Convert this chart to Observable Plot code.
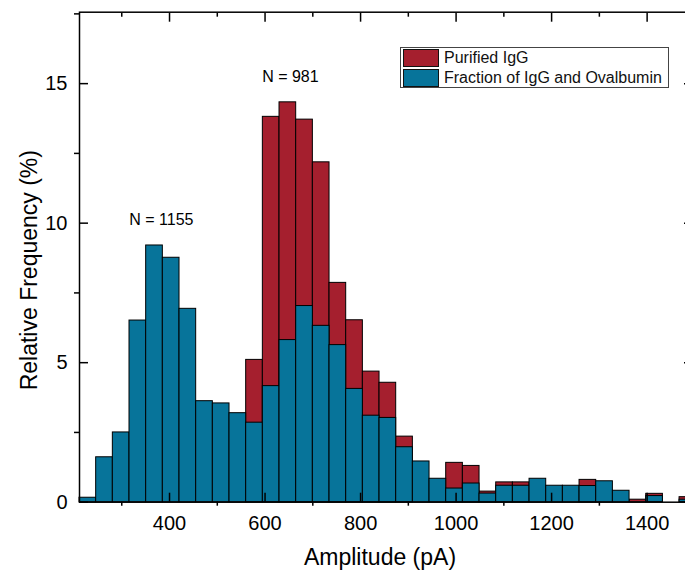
<!DOCTYPE html>
<html>
<head>
<meta charset="utf-8">
<script src="https://cdn.jsdelivr.net/npm/d3@7"></script>
<script src="https://cdn.jsdelivr.net/npm/@observablehq/plot@0.6"></script>
<style>
  html, body { margin: 0; padding: 0; background: #fff; overflow: hidden; }
  #wrap { position: relative; width: 685px; height: 579px; font-family: "Liberation Sans", Arial, sans-serif; }
  #legend { position: absolute; left: 400px; top: 47px; width: 269px; height: 41px; border: 1px solid #444; background: #fff; box-sizing: border-box; }
  .row { position: absolute; left: 2px; height: 18px; display: flex; align-items: center; font-size: 16px; color: #111; white-space: nowrap; }
  .sw { width: 36px; height: 18px; box-sizing: border-box; border: 1px solid #111; margin-right: 5px; }
</style>
</head>
<body>
<div id="wrap"></div>
<script>
// Histogram bins (Amplitude, pA)
const binStart = 211.5;
const binWidth = 34.9;
// Relative frequency (%) per bin, "Fraction of IgG and Ovalbumin" (N = 1155)
const fraction = [0.16, 1.61, 2.50, 6.51, 9.20, 8.76, 6.93, 3.62, 3.54, 3.19,
                  2.85, 4.16, 5.81, 7.03, 6.32, 5.63, 4.06, 3.10, 3.02, 1.97,
                  1.46, 0.84, 0.49, 0.67, 0.31, 0.59, 0.59, 0.84, 0.59, 0.59,
                  0.58, 0.75, 0.41, 0.00, 0.22, 0.00, 0.09];
// Relative frequency (%) per bin, "Purified IgG" (N = 981); null = hidden behind the other series
const purified = [null, null, null, null, null, null, null, null, null, null,
                  5.10, 13.81, 14.33, 13.71, 12.18, 7.86, 6.52, 4.68, 4.28, 2.35,
                  null, null, 1.41, 1.30, 0.38, 0.71, 0.71, null, null, null,
                  0.80, null, null, 0.09, 0.30, 0.00, 0.18];
const seriesNames = ["Purified IgG", "Fraction of IgG and Ovalbumin"];
const seriesColors = ["#a51f2e", "#07749a"];
const majorX = [400, 600, 800, 1000, 1200, 1400];
const minorX = [300, 500, 700, 900, 1100, 1300, 1500];
const majorY = [0, 5, 10, 15];
const minorY = [2.5, 7.5, 12.5, 17.5];
const annotations = [
  {x: 383, y: 10.13, text: "N = 1155"},
  {x: 653, y: 15.26, text: "N = 981"}
];

const toBins = (vals) => vals.map((v, i) => ({x1: binStart + i * binWidth, x2: binStart + (i + 1) * binWidth, y: v}))
  .filter(d => d.y != null && d.y > 0);

const font = "'Liberation Sans', Arial, sans-serif";

const chart = Plot.plot({
  width: 685,
  height: 579,
  marginLeft: 79,
  marginRight: -7,
  marginTop: 11.7,
  marginBottom: 77.3,
  style: {fontFamily: font, background: "#fff", color: "#000"},
  x: {domain: [211.5, 1495], axis: null},
  y: {domain: [0, 17.56], axis: null},
  marks: [
    Plot.rectY(toBins(purified), {x1: "x1", x2: "x2", y: "y", fill: seriesColors[0], stroke: "#000", strokeWidth: 1}),
    Plot.rectY(toBins(fraction), {x1: "x1", x2: "x2", y: "y", fill: seriesColors[1], stroke: "#000", strokeWidth: 1}),
    // bottom axis ticks
    Plot.axisX(majorX, {anchor: "bottom", tickSize: -9, tickFormat: () => "", strokeWidth: 1.5, label: null}),
    Plot.axisX(minorX, {anchor: "bottom", tickSize: 4, tickFormat: () => "", strokeWidth: 1.5, label: null}),
    Plot.axisX(majorX, {anchor: "bottom", tickSize: 0, tickPadding: 13.5, fontSize: 20, label: null, tickFormat: d => String(d)}),
    // top axis ticks (inward)
    Plot.axisX(majorX, {anchor: "top", tickSize: -9, tickFormat: () => "", strokeWidth: 1.5, label: null}),
    Plot.axisX(minorX, {anchor: "top", tickSize: -4, tickFormat: () => "", strokeWidth: 1.5, label: null}),
    // left axis
    Plot.axisY(majorY, {anchor: "left", tickSize: -9, tickFormat: () => "", strokeWidth: 1.5, label: null}),
    Plot.axisY(minorY, {anchor: "left", tickSize: 5, tickFormat: () => "", strokeWidth: 1.5, label: null}),
    Plot.axisY(majorY, {anchor: "left", tickSize: 0, tickPadding: 12, fontSize: 20, label: null, tickFormat: d => String(d)}),
    // right axis (mostly outside view)
    Plot.axisY(majorY, {anchor: "right", tickSize: -9, tickFormat: () => "", strokeWidth: 1.5, label: null}),
    Plot.frame({stroke: "#000", strokeWidth: 1.5}),
    Plot.text(annotations, {x: "x", y: "y", text: "text", fontSize: 16, fill: "#000"}),
    Plot.text(["Amplitude (pA)"], {frameAnchor: "bottom", dx: -6, dy: 55, fontSize: 23, fill: "#000", lineAnchor: "middle"}),
    Plot.text(["Relative Frequency (%)"], {frameAnchor: "left", dx: -50, dy: 13, rotate: -90, textAnchor: "middle", fontSize: 23, fill: "#000", lineAnchor: "middle"})
  ]
});

const wrap = document.getElementById("wrap");
wrap.appendChild(chart);

const legend = document.createElement("div");
legend.id = "legend";
seriesNames.forEach((name, i) => {
  const row = document.createElement("div");
  row.className = "row";
  row.style.top = (i === 0 ? 1 : 21) + "px";
  const sw = document.createElement("div");
  sw.className = "sw";
  sw.style.background = seriesColors[i];
  const t = document.createElement("span");
  t.textContent = name;
  row.appendChild(sw);
  row.appendChild(t);
  legend.appendChild(row);
});
wrap.appendChild(legend);
</script>
</body>
</html>
